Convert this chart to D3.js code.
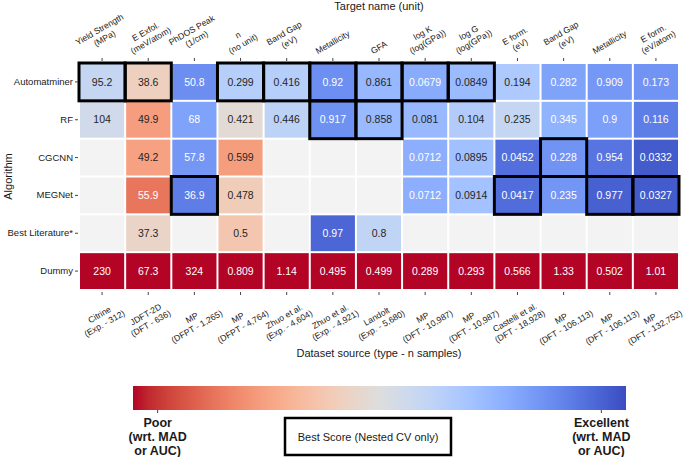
<!DOCTYPE html>
<html>
<head>
<meta charset="utf-8">
<script src="https://cdn.jsdelivr.net/npm/d3@7"></script>
<style>
  body { margin: 0; background: #fff; }
  text { font-family: "Liberation Sans", Arial, Helvetica, sans-serif; fill: #1a1a1a; }
  .tick line { stroke: #444; }
  .tick text { font-size: 9.5px; fill: #1a1a1a; }
</style>
</head>
<body>
<div id="chart"></div>
<script>
// ---------- Data ----------
const algorithms = ['Automatminer', 'RF', 'CGCNN', 'MEGNet', 'Best Literature*', 'Dummy']

const targets = [
  'Yield Strength\n(MPa)', 'E Exfol.\n(meV/atom)', 'PhDOS Peak\n(1/cm)', 'n\n(no unit)',
  'Band Gap\n(eV)', 'Metallicity', 'GFA', 'log K\n(log(GPa))', 'log G\n(log(GPa))',
  'E form.\n(eV)', 'Band Gap\n(eV)', 'Metallicity', 'E form.\n(eV/atom)'
]

const sources = [
  'Citrine\n(Exp. - 312)', 'JDFT-2D\n(DFT - 636)', 'MP\n(DFPT - 1,265)', 'MP\n(DFPT - 4,764)',
  'Zhuo et al.\n(Exp. - 4,604)', 'Zhuo et al.\n(Exp. - 4,921)', 'Landolt\n(Exp. - 5,680)',
  'MP\n(DFT - 10,987)', 'MP\n(DFT - 10,987)', 'Castelli et al.\n(DFT - 18,928)',
  'MP\n(DFT - 106,113)', 'MP\n(DFT - 106,113)', 'MP\n(DFT - 132,752)'
]

// 'mae' = lower is better, 'auc' = higher is better
const metricTypes = ['mae', 'mae', 'mae', 'mae', 'mae', 'auc', 'auc', 'mae', 'mae', 'mae', 'mae', 'auc', 'mae']

const automatminer   = [95.2, 38.6, 50.8, 0.299, 0.416, 0.92, 0.861, 0.0679, 0.0849, 0.194, 0.282, 0.909, 0.173]
const rf             = [104, 49.9, 68, 0.421, 0.446, 0.917, 0.858, 0.081, 0.104, 0.235, 0.345, 0.9, 0.116]
const cgcnn          = [null, 49.2, 57.8, 0.599, null, null, null, 0.0712, 0.0895, 0.0452, 0.228, 0.954, 0.0332]
const megnet         = [null, 55.9, 36.9, 0.478, null, null, null, 0.0712, 0.0914, 0.0417, 0.235, 0.977, 0.0327]
const bestLiterature = [null, 37.3, null, 0.5, null, 0.97, 0.8, null, null, null, null, null, null]
const dummy          = [230, 67.3, 324, 0.809, 1.14, 0.495, 0.499, 0.289, 0.293, 0.566, 1.33, 0.502, 1.01]

const rowValues = [automatminer, rf, cgcnn, megnet, bestLiterature, dummy]

// [algorithm, column index] of the boxed "best score" cells
const bestCells = [
  ['Automatminer', 0], ['Automatminer', 1], ['Automatminer', 3], ['Automatminer', 4],
  ['Automatminer', 5], ['Automatminer', 6], ['Automatminer', 7], ['Automatminer', 8],
  ['RF', 5], ['RF', 6],
  ['CGCNN', 10],
  ['MEGNet', 2], ['MEGNet', 9], ['MEGNet', 11], ['MEGNet', 12]
]

const colorbarTicks = [
  { value: 0.95, label: 'Poor\n(wrt. MAD\nor AUC)' },
  { value: 0.05, label: 'Excellent\n(wrt. MAD\nor AUC)' }
]

// coolwarm colormap samples (blue -> grey -> red)
const coolwarm = [
  '#3b4cc0', '#445acc', '#4d68d7', '#5775e1', '#6282ea', '#6c8ef1', '#779af7', '#82a5fb',
  '#8db0fe', '#98b9ff', '#a3c2ff', '#aec9fd', '#b8d0f9', '#c2d5f4', '#ccd9ee', '#d5dbe6',
  '#dddddd', '#e5d8d1', '#ecd3c5', '#f1ccb8', '#f5c4ac', '#f7bb9f', '#f7b193', '#f7a686',
  '#f49a7b', '#f18d6f', '#ec7f63', '#e57059', '#de604d', '#d55042', '#cb3e38', '#c0282f', '#b40426'
]

// ---------- Scales ----------
const width = 685
const height = 457

const x = d3.scaleBand().domain(d3.range(targets.length)).range([79, 679])
const y = d3.scaleBand().domain(algorithms).range([63, 290])
const color = d3.scaleSequential(d3.interpolateRgbBasis(coolwarm)).domain([0, 1]).clamp(true)

// relative error wrt the dummy model: 0 = perfect, 1 = as bad as dummy
function relScore (v, col) {
  const d = dummy[col]
  return metricTypes[col] === 'auc' ? (1 - v) / (1 - d) : v / d
}

const svg = d3.select('#chart').append('svg')
  .attr('width', width)
  .attr('height', height)

// ---------- Cells ----------
const cells = []
rowValues.forEach((vals, r) => {
  vals.forEach((v, c) => cells.push({ algo: algorithms[r], col: c, value: v }))
})

const cellG = svg.append('g')
  .selectAll('g')
  .data(cells)
  .join('g')
  .attr('transform', d => `translate(${x(d.col)},${y(d.algo)})`)

cellG.append('rect')
  .attr('x', 1)
  .attr('y', 1)
  .attr('width', x.bandwidth() - 2)
  .attr('height', y.bandwidth() - 2)
  .attr('fill', d => d.value == null ? '#f3f3f3' : color(relScore(d.value, d.col)))

cellG.filter(d => d.value != null)
  .append('text')
  .attr('x', x.bandwidth() / 2)
  .attr('y', y.bandwidth() / 2)
  .attr('dy', '0.35em')
  .attr('text-anchor', 'middle')
  .style('font-size', '10.5px')
  .style('fill', d => {
    const t = relScore(d.value, d.col)
    return (t < 0.27 || t > 0.78) ? '#ffffff' : '#262626'
  })
  .text(d => d.value)

// ---------- Best score boxes ----------
svg.append('g')
  .selectAll('rect')
  .data(bestCells)
  .join('rect')
  .attr('x', d => x(d[1]))
  .attr('y', d => y(d[0]))
  .attr('width', x.bandwidth())
  .attr('height', y.bandwidth())
  .attr('fill', 'none')
  .attr('stroke', '#000')
  .attr('stroke-width', 3)

// ---------- Axes (ticks only, labels drawn below) ----------
svg.append('g')
  .attr('transform', 'translate(0,61)')
  .call(d3.axisTop(x).tickSize(3).tickFormat(''))
  .call(ax => ax.select('.domain').remove())

svg.append('g')
  .attr('transform', 'translate(0,292)')
  .call(d3.axisBottom(x).tickSize(3).tickFormat(''))
  .call(ax => ax.select('.domain').remove())

svg.append('g')
  .attr('transform', 'translate(78,0)')
  .call(d3.axisLeft(y).tickSize(3).tickPadding(2))
  .call(ax => ax.select('.domain').remove())

// rotated multi-line labels, bounding box centered on the tick
function rotatedLabels (labels, anchorY, above) {
  labels.forEach((label, i) => {
    const outer = svg.append('g')
    const inner = outer.append('g').attr('transform', 'rotate(-30)')
    const lines = label.split('\n')
    const t = inner.append('text')
      .attr('text-anchor', 'middle')
      .style('font-size', '8.6px')
    lines.forEach((ln, k) => {
      t.append('tspan').attr('x', 0).attr('y', k * 10.2).text(ln)
    })
    const bb = outer.node().getBBox()
    const cx = x(i) + x.bandwidth() / 2
    let dx = cx - (bb.x + bb.width / 2)
    // keep the last label inside the picture
    if (bb.x + bb.width + dx > width - 1) dx = width - 1 - (bb.x + bb.width)
    const dy = above ? anchorY - (bb.y + bb.height) : anchorY - bb.y
    outer.attr('transform', `translate(${dx},${dy})`)
  })
}

rotatedLabels(targets, 56, true)
rotatedLabels(sources, 299, false)

// ---------- Axis titles ----------
svg.append('text')
  .attr('x', 379)
  .attr('y', 10)
  .attr('text-anchor', 'middle')
  .style('font-size', '11px')
  .text('Target name (unit)')

svg.append('text')
  .attr('x', 379)
  .attr('y', 357)
  .attr('text-anchor', 'middle')
  .style('font-size', '11px')
  .text('Dataset source (type - n samples)')

svg.append('text')
  .attr('transform', `translate(12,${(63 + 290) / 2}) rotate(-90)`)
  .attr('text-anchor', 'middle')
  .style('font-size', '11px')
  .text('Algorithm')

// ---------- Colorbar ----------
const cb = { x0: 133, x1: 626, y: 386, h: 24 }
const cbScale = d3.scaleLinear().domain([1, 0]).range([cb.x0, cb.x1])

const grad = svg.append('defs').append('linearGradient')
  .attr('id', 'cbgrad')
  .attr('x1', '0%').attr('x2', '100%')
  .attr('y1', '0%').attr('y2', '0%')

grad.selectAll('stop')
  .data(coolwarm.slice().reverse())
  .join('stop')
  .attr('offset', (_, i) => `${(i / (coolwarm.length - 1)) * 100}%`)
  .attr('stop-color', d => d)

svg.append('rect')
  .attr('x', cb.x0)
  .attr('y', cb.y)
  .attr('width', cb.x1 - cb.x0)
  .attr('height', cb.h)
  .attr('fill', 'url(#cbgrad)')

const cbTick = svg.append('g')
  .selectAll('g')
  .data(colorbarTicks)
  .join('g')
  .attr('transform', d => `translate(${cbScale(d.value)},${cb.y + cb.h})`)

cbTick.append('line')
  .attr('y2', 3)
  .attr('stroke', '#444')

cbTick.each(function (d) {
  const t = d3.select(this).append('text')
    .attr('text-anchor', 'middle')
    .style('font-size', '12.5px')
    .style('font-weight', 'bold')
  d.label.split('\n').forEach((ln, k) => {
    t.append('tspan').attr('x', 0).attr('y', 17 + k * 14).text(ln)
  })
})

// ---------- Legend box ----------
svg.append('rect')
  .attr('x', 285)
  .attr('y', 418)
  .attr('width', 166)
  .attr('height', 37)
  .attr('fill', 'none')
  .attr('stroke', '#000')
  .attr('stroke-width', 2.5)

svg.append('text')
  .attr('x', 368)
  .attr('y', 437)
  .attr('dy', '0.35em')
  .attr('text-anchor', 'middle')
  .style('font-size', '11px')
  .text('Best Score (Nested CV only)')
</script>
</body>
</html>
